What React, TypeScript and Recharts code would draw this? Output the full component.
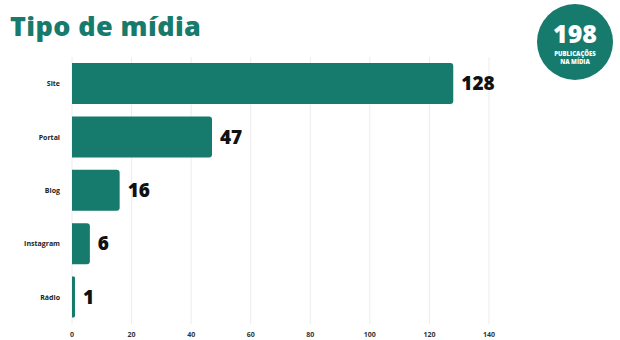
import React from 'react';
import { BarChart, Bar, XAxis, YAxis, CartesianGrid, LabelList } from 'recharts';

const categories = ['Site', 'Portal', 'Blog', 'Instagram', 'Rádio'];
const counts = [128, 47, 16, 6, 1];
const xTicks = [0, 20, 40, 60, 80, 100, 120, 140];
const total = 198;

const data = categories.map((name, i) => ({ name, value: counts[i] }));

const TEAL = '#167a6c';
const FONT = '"Open Sans", "DejaVu Sans", sans-serif';

const App: React.FC = () => (
  <div style={{ position: 'absolute', left: 0, top: 0, width: 620, height: 340, background: '#fff', fontFamily: FONT }}>
    <div style={{ position: 'absolute', left: 10, top: 7, fontSize: 27, fontWeight: 800, color: TEAL, letterSpacing: 0.4 }}>
      Tipo de mídia
    </div>
    <div
      style={{
        position: 'absolute', left: 537, top: 4, width: 76, height: 76, borderRadius: '50%', background: TEAL,
        color: '#fff', display: 'flex', flexDirection: 'column', alignItems: 'center', justifyContent: 'center',
      }}
    >
      <div style={{ fontSize: 25, fontWeight: 800, lineHeight: 'normal', marginTop: -3 }}>{total}</div>
      <div style={{ fontSize: 6, fontWeight: 800, lineHeight: '8px' }}>PUBLICAÇÕES</div>
      <div style={{ fontSize: 6, fontWeight: 800, lineHeight: '8px' }}>NA MÍDIA</div>
    </div>
    <BarChart
      width={620}
      height={340}
      data={data}
      layout="vertical"
      margin={{ top: 57, right: 131, left: 12, bottom: 2 }}
      barCategoryGap={6}
    >
      <CartesianGrid horizontal={false} stroke="#ececec" />
      <XAxis
        type="number"
        domain={[0, 140]}
        ticks={xTicks}
        axisLine={false}
        tickLine={false}
        tick={{ fontSize: 7, fontWeight: 700, fill: '#333', fontFamily: FONT }}
        height={14}
        tickMargin={2}
      />
      <YAxis
        type="category"
        dataKey="name"
        axisLine={false}
        tickLine={false}
        width={60}
        tick={{ fontSize: 7, fontWeight: 700, fill: '#222', fontFamily: FONT }}
        tickMargin={6}
      />
      <Bar dataKey="value" fill={TEAL} radius={[0, 3, 3, 0]} isAnimationActive={false}>
        <LabelList
          dataKey="value"
          position="right"
          offset={8}
          style={{ fontSize: 19, fontWeight: 800, fill: '#111', fontFamily: FONT }}
        />
      </Bar>
    </BarChart>
  </div>
);

export default App;
